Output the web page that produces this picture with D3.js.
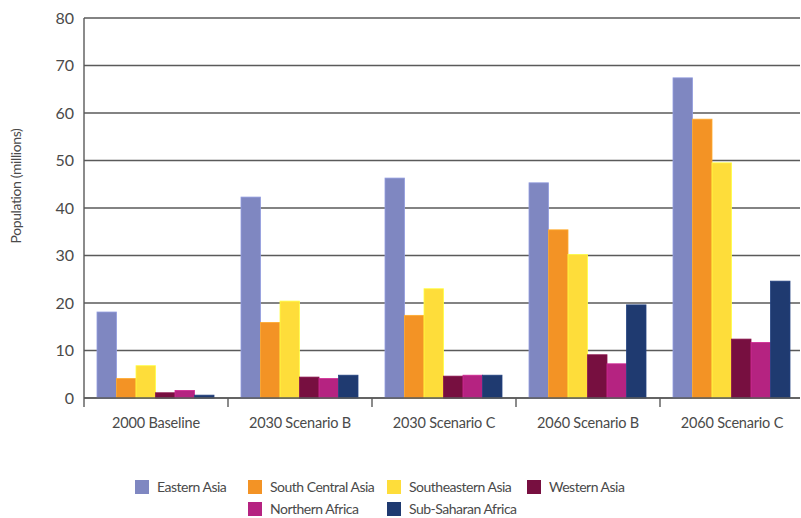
<!DOCTYPE html>
<html>
<head>
<meta charset="utf-8">
<script src="https://cdn.jsdelivr.net/npm/d3@7"></script>
<style>
  body { margin: 0; background: #fff; }
  text { font-family: Lato, "Open Sans", sans-serif; fill: #4a4a4a; }
</style>
</head>
<body>
<svg width="801" height="518"></svg>
<script>
// scenari e regioni
const scenarios = ["2000 Baseline", "2030 Scenario B", "2030 Scenario C", "2060 Scenario B", "2060 Scenario C"];
const regions = ["Eastern Asia", "South Central Asia", "Southeastern Asia", "Western Asia", "Northern Africa", "Sub-Saharan Africa"];
const regionColors = ["#7f87c1", "#f39325", "#fedd3a", "#770f40", "#b52381", "#1f3a70"];

// valori per regione, uno per scenario (milioni)
const easternAsia = [18.1, 42.3, 46.3, 45.3, 67.4];
const southCentralAsia = [4.1, 15.9, 17.4, 35.4, 58.7];
const southeasternAsia = [6.8, 20.4, 23.0, 30.2, 49.5];
const westernAsia = [1.1, 4.4, 4.6, 9.1, 12.4];
const northernAfrica = [1.6, 4.1, 4.8, 7.2, 11.7];
const subSaharanAfrica = [0.6, 4.8, 4.8, 19.6, 24.6];

const yTicks = [0, 10, 20, 30, 40, 50, 60, 70, 80];

const series = [easternAsia, southCentralAsia, southeasternAsia, westernAsia, northernAfrica, subSaharanAfrica];
const rows = scenarios.map((s, i) => ({
  scenario: s,
  values: regions.map((r, j) => ({ region: r, value: series[j][i] }))
}));

const svg = d3.select("svg");
const margin = { left: 84, top: 18 };

const x0 = d3.scaleBand()
  .domain(scenarios)
  .range([margin.left, 804])
  .padding(0);

const x1 = d3.scaleBand()
  .domain(regions)
  .range([13, x0.bandwidth() - 14])
  .padding(0);

const y = d3.scaleLinear()
  .domain([0, 80])
  .range([398, margin.top]);

const color = d3.scaleOrdinal().domain(regions).range(regionColors);

// griglia orizzontale
svg.append("g")
  .selectAll("line")
  .data(yTicks)
  .enter()
  .append("line")
  .attr("x1", margin.left)
  .attr("x2", 800)
  .attr("y1", d => y(d))
  .attr("y2", d => y(d))
  .attr("stroke", "#5a5a5a")
  .attr("stroke-width", 1.4);

// etichette asse y
svg.append("g")
  .selectAll("text")
  .data(yTicks)
  .enter()
  .append("text")
  .attr("x", 74)
  .attr("y", d => y(d))
  .attr("dy", "0.35em")
  .attr("text-anchor", "end")
  .style("font-size", "16px")
  .text(d => d);

svg.append("text")
  .attr("transform", "translate(21,186) rotate(-90)")
  .attr("text-anchor", "middle")
  .style("font-size", "14px")
  .style("letter-spacing", "-0.4px")
  .text("Population (millions)");

// barre
const groups = svg.append("g")
  .selectAll("g")
  .data(rows)
  .enter()
  .append("g")
  .attr("transform", d => `translate(${x0(d.scenario)},0)`);

groups.selectAll("rect")
  .data(d => d.values)
  .enter()
  .append("rect")
  .attr("x", d => x1(d.region))
  .attr("width", x1.bandwidth())
  .attr("y", d => y(d.value))
  .attr("height", d => y(0) - y(d.value))
  .attr("fill", d => color(d.region))
  .attr("stroke", d => d3.rgb(color(d.region)).brighter(0.4))
  .attr("stroke-width", 0.8);

// assi
svg.append("line")
  .attr("x1", margin.left).attr("x2", margin.left)
  .attr("y1", y(80)).attr("y2", y(0) + 9)
  .attr("stroke", "#5a5a5a").attr("stroke-width", 1.4);

svg.append("line")
  .attr("x1", margin.left).attr("x2", 800)
  .attr("y1", y(0)).attr("y2", y(0))
  .attr("stroke", "#5a5a5a").attr("stroke-width", 1.4);

// tacche tra categorie
svg.append("g")
  .selectAll("line")
  .data(scenarios.slice(1))
  .enter()
  .append("line")
  .attr("x1", d => x0(d)).attr("x2", d => x0(d))
  .attr("y1", y(0)).attr("y2", y(0) + 9)
  .attr("stroke", "#5a5a5a").attr("stroke-width", 1.4);

svg.append("g")
  .selectAll("text")
  .data(scenarios)
  .enter()
  .append("text")
  .attr("x", d => x0(d) + x0.bandwidth() / 2)
  .attr("y", 428)
  .attr("text-anchor", "middle")
  .style("font-size", "14.5px")
  .style("letter-spacing", "-0.2px")
  .text(d => d);

// legenda
const legendPos = [[135, 480], [248, 480], [387, 480], [527, 480], [248, 502], [387, 502]];
const legend = svg.append("g")
  .selectAll("g")
  .data(regions)
  .enter()
  .append("g")
  .attr("transform", (d, i) => `translate(${legendPos[i][0]},${legendPos[i][1]})`);

legend.append("rect")
  .attr("width", 14).attr("height", 14)
  .attr("fill", d => color(d));

legend.append("text")
  .attr("x", 22)
  .attr("y", 7)
  .attr("dy", "0.35em")
  .style("font-size", "14px")
  .style("letter-spacing", "-0.5px")
  .text(d => d);
</script>
</body>
</html>
